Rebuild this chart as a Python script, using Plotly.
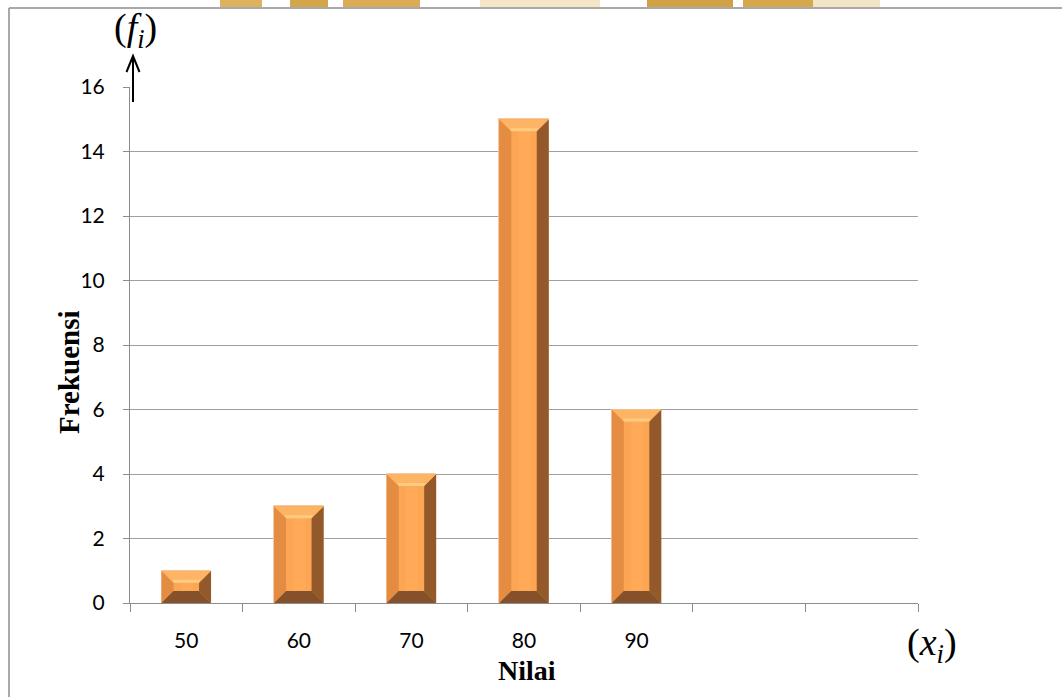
import plotly.graph_objects as go

# ---- data ----
categories = ["50", "60", "70", "80", "90"]
frekuensi = [1, 3, 4, 15, 6]
n_slots = 7                      # category slots on the axis (two empty at right)
y_ticks = [0, 2, 4, 6, 8, 10, 12, 14, 16]

# ---- geometry (pixels) ----
W, H = 1062, 697
L, R, T, B = 130, 918, 87, 603
PW, PH = R - L, B - T

def px(x):
    return (x - L) / PW

def py(y):
    return (B - y) / PH

y_max = 16
bar_w = 0.44
bev_px = 12
bx = bev_px / (PW / n_slots)
by_unit = bev_px / (PH / y_max)

fig = go.Figure()

xs = list(range(len(categories)))
fig.add_trace(go.Bar(
    x=xs, y=frekuensi, width=bar_w,
    marker=dict(color="#F99F4C", line=dict(color="#F3C8A4", width=1)),
    hoverinfo="x+y", showlegend=False,
))

shapes = []

def poly(pts, color):
    d = "M " + " L ".join(f"{a},{b}" for a, b in pts) + " Z"
    return dict(type="path", path=d, xref="x", yref="y",
                fillcolor=color, line=dict(width=0), layer="above")

for i, v in enumerate(frekuensi):
    x0, x1 = i - bar_w / 2, i + bar_w / 2
    y0, y1 = 0, v
    by = min(by_unit, v * 0.38)
    # center face with soft highlight strip
    shapes.append(poly([(x0 + bx, y0 + by), (x1 - bx, y0 + by), (x1 - bx, y1 - by), (x0 + bx, y1 - by)], "#FCA552"))
    shapes.append(poly([(x0 + bx * 1.6, y0 + by), (x0 + bx * 2.6, y0 + by), (x0 + bx * 2.6, y1 - by), (x0 + bx * 1.6, y1 - by)], "#FFAA58"))
    # left bevel
    shapes.append(poly([(x0, y0), (x0, y1), (x0 + bx, y1 - by), (x0 + bx, y0 + by)], "#E48C42"))
    # right bevel
    shapes.append(poly([(x1, y0), (x1, y1), (x1 - bx, y1 - by), (x1 - bx, y0 + by)], "#93592A"))
    # bottom bevel
    shapes.append(poly([(x0, y0), (x1, y0), (x1 - bx, y0 + by), (x0 + bx, y0 + by)], "#84512A"))
    # top bevel
    shapes.append(poly([(x0, y1), (x1, y1), (x1 - bx, y1 - by), (x0 + bx, y1 - by)], "#FDB565"))
    shapes.append(poly([(x0 + bx * 0.9, y1 - by * 0.75), (x1 - bx * 0.9, y1 - by * 0.75),
                        (x1 - bx, y1 - by), (x0 + bx, y1 - by)], "#FFCB80"))

# outer frame
shapes.append(dict(type="line", xref="paper", yref="paper",
                   x0=px(9), x1=px(9), y0=py(8), y1=py(H + 5),
                   line=dict(color="#8C8C8C", width=1.5)))
shapes.append(dict(type="line", xref="paper", yref="paper",
                   x0=px(9), x1=px(W + 5), y0=py(8), y1=py(8),
                   line=dict(color="#8C8C8C", width=1.5)))

# faint watermark strip at top
for a, b, c in [(220, 262, "#DDB25E"), (290, 328, "#D4A64A"), (343, 420, "#D9AC55"),
                (480, 600, "#F4E6C6"), (647, 733, "#D1A243"), (743, 813, "#D6A84E"),
                (813, 880, "#F2E4C6")]:
    shapes.append(dict(type="rect", xref="paper", yref="paper",
                       x0=px(a), x1=px(b), y0=py(7), y1=py(0),
                       fillcolor=c, line=dict(width=0), layer="below"))

# y-axis arrow
shapes.append(dict(type="line", xref="paper", yref="paper",
                   x0=px(133), x1=px(133), y0=py(102), y1=py(57),
                   line=dict(color="black", width=2)))
shapes.append(dict(type="path", xref="paper", yref="paper",
                   path=f"M {px(126.5)},{py(72)} L {px(133)},{py(56)} L {px(139.5)},{py(72)}",
                   line=dict(color="black", width=2)))

annotations = [
    dict(text="<b>Nilai</b>", xref="paper", yref="paper", x=px(527), y=py(670),
         showarrow=False, font=dict(family="Liberation Serif", size=28, color="black"),
         xanchor="center", yanchor="middle"),
    dict(text="<b>Frekuensi</b>", xref="paper", yref="paper", x=px(69), y=py(372),
         showarrow=False, textangle=-90,
         font=dict(family="Liberation Serif", size=29, color="black"),
         xanchor="center", yanchor="middle"),
    dict(text="(<i>f</i><sub><i>i</i></sub>)", xref="paper", yref="paper", x=px(135), y=py(30),
         showarrow=False, font=dict(family="Liberation Serif", size=38, color="black"),
         xanchor="center", yanchor="middle"),
    dict(text="(<i>x</i><sub><i>i</i></sub>)", xref="paper", yref="paper", x=px(932), y=py(645),
         showarrow=False, font=dict(family="Liberation Serif", size=38, color="black"),
         xanchor="center", yanchor="middle"),
]

fig.update_layout(
    width=W, height=H,
    margin=dict(l=L, r=W - R, t=T, b=H - B, pad=0),
    paper_bgcolor="white", plot_bgcolor="white",
    shapes=shapes, annotations=annotations,
    bargap=0,
    xaxis=dict(
        range=[-0.5, n_slots - 0.5], tickmode="array", tickvals=xs, ticktext=categories,
        ticks="", showgrid=False, zeroline=False,
        showline=True, linecolor="#8C8C8C", linewidth=1,
        tickfont=dict(family="Lato", size=21, color="black"),
        ticklabelstandoff=19,
        minor=dict(tick0=-0.5, dtick=1, ticks="outside", ticklen=8,
                   tickcolor="#8C8C8C", tickwidth=1, showgrid=False),
    ),
    yaxis=dict(
        range=[0, y_max], tickmode="array", tickvals=y_ticks,
        ticks="outside", ticklen=6, tickcolor="#8C8C8C",
        showgrid=True, gridcolor="#A0A0A0", gridwidth=1,
        zeroline=False, showline=True, linecolor="#8C8C8C", linewidth=1,
        tickfont=dict(family="Lato", size=21, color="black"),
        ticklabelstandoff=14,
    ),
)

fig.write_html("out.html")
